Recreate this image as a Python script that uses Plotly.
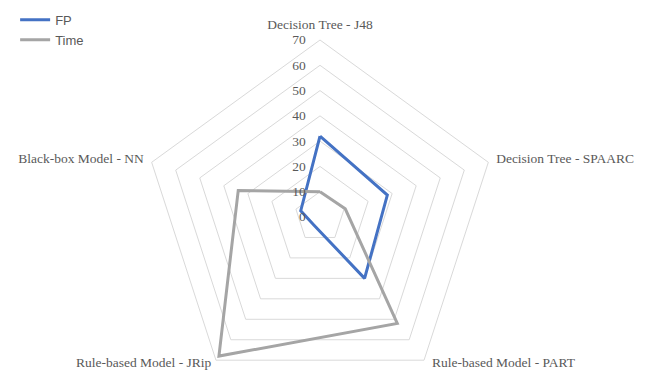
import plotly.graph_objects as go

categories = ["Decision Tree - J48", "Decision Tree - SPAARC", "Rule-based Model - PART",
              "Rule-based Model - JRip", "Black-box Model - NN"]
fp_values = [32, 28, 30, 4, 8]
time_values = [10, 10.5, 52, 68, 34]
radial_ticks = [0, 10, 20, 30, 40, 50, 60, 70]

W, H = 648, 400
# page is offset ~8px by the body margin, so centre sits at (312, 209) in figure px
cx, cy, rad = 312, 209, 177
label_font = dict(family="Liberation Serif", size=13.5, color="#595959")

fig = go.Figure()
fig.add_trace(go.Scatterpolar(
    r=fp_values + fp_values[:1], theta=categories + categories[:1],
    mode="lines", name="FP", line=dict(color="#4472C4", width=3)))
fig.add_trace(go.Scatterpolar(
    r=time_values + time_values[:1], theta=categories + categories[:1],
    mode="lines", name="Time", line=dict(color="#A5A5A5", width=3)))

# the two bottom category labels sit closer to the ring than plotly puts them,
# so they are drawn as annotations instead
ticktext = [c if i not in (2, 3) else "" for i, c in enumerate(categories)]
fig.add_annotation(text=categories[2], xref="paper", yref="paper",
                   x=422 / W, y=(H - 354) / H, xanchor="left", yanchor="middle",
                   showarrow=False, font=label_font)
fig.add_annotation(text=categories[3], xref="paper", yref="paper",
                   x=206 / W, y=(H - 354) / H, xanchor="right", yanchor="middle",
                   showarrow=False, font=label_font)

fig.update_layout(
    width=W, height=H,
    margin=dict(l=0, r=0, t=0, b=0, autoexpand=False),
    paper_bgcolor="white",
    showlegend=True,
    legend=dict(x=0.011, y=1.008, xanchor="left", yanchor="top",
                font=dict(family="Liberation Sans", size=13, color="#595959"),
                bgcolor="rgba(0,0,0,0)", tracegroupgap=0),
    polar=dict(
        domain=dict(x=[(cx - rad) / W, (cx + rad) / W],
                    y=[(H - cy - rad) / H, (H - cy + rad) / H]),
        bgcolor="white",
        gridshape="linear",
        radialaxis=dict(range=[0, 70], tickvals=radial_ticks, angle=90, tickangle=90,
                        side="counterclockwise",
                        ticks="outside", ticklen=9, tickcolor="rgba(0,0,0,0)",
                        showline=False, gridcolor="#D9D9D9", gridwidth=1,
                        tickfont=label_font),
        angularaxis=dict(rotation=90, direction="clockwise", showgrid=False,
                         showline=True, linecolor="#D9D9D9", linewidth=1,
                         tickmode="array", tickvals=categories, ticktext=ticktext,
                         ticks="outside", ticklen=5, tickcolor="rgba(0,0,0,0)",
                         tickfont=label_font),
    ),
)

fig.write_html("out.html")
